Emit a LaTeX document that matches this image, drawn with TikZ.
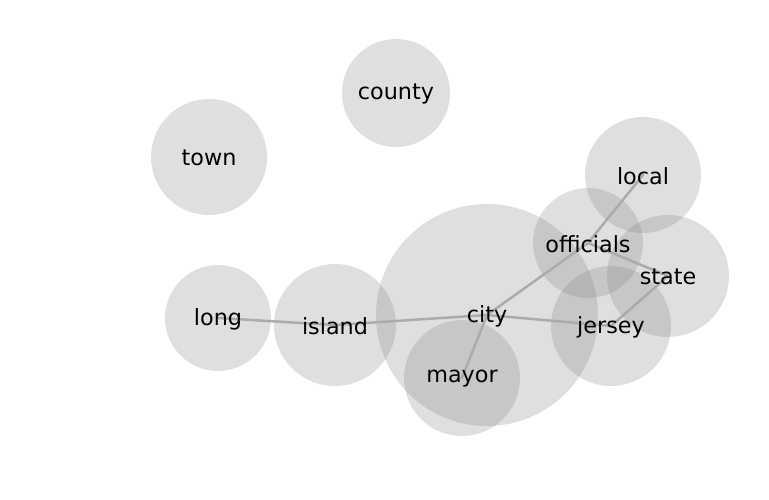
\documentclass[tikz,border=0pt]{standalone}
\usepackage{fontspec}
\setmainfont{DejaVu Sans}
\usepackage{tikz}

\begin{document}
\begin{tikzpicture}[x=1pt,y=-1pt,line cap=round,line join=round,
    bubble/.style={fill=gray,fill opacity=0.25},
    link/.style={color=black!33,line width=2.5pt},
    word/.style={font=\fontsize{22.3}{26}\selectfont,inner sep=0pt,yshift=-1pt}]
    \useasboundingbox (0,0) rectangle (769,500);
    \foreach \n/\x/\y in {county/396/93,town/209/157,local/643/175,officials/588/243,state/668/276,
      jersey/611/326,city/487/315,mayor/462/378,island/335/325,long/218/318}
    \coordinate (\n) at (\x,\y);
    \foreach \n/\r in {county/54,town/58,local/58,officials/55,state/61,jersey/60,city/111,mayor/58,island/61,long/53}
    \fill[bubble] (\n) circle[radius=\r pt];
    \foreach \a/\b in {long/island,island/city,city/mayor,city/jersey,city/officials,officials/local,officials/state,state/jersey}
    \draw[link] (\a) -- (\b);
    \foreach \n in {county,town,local,officials,state,jersey,city,mayor,island,long}
    \node[word] at (\n) {\n};
  \end{tikzpicture}
\end{document}
